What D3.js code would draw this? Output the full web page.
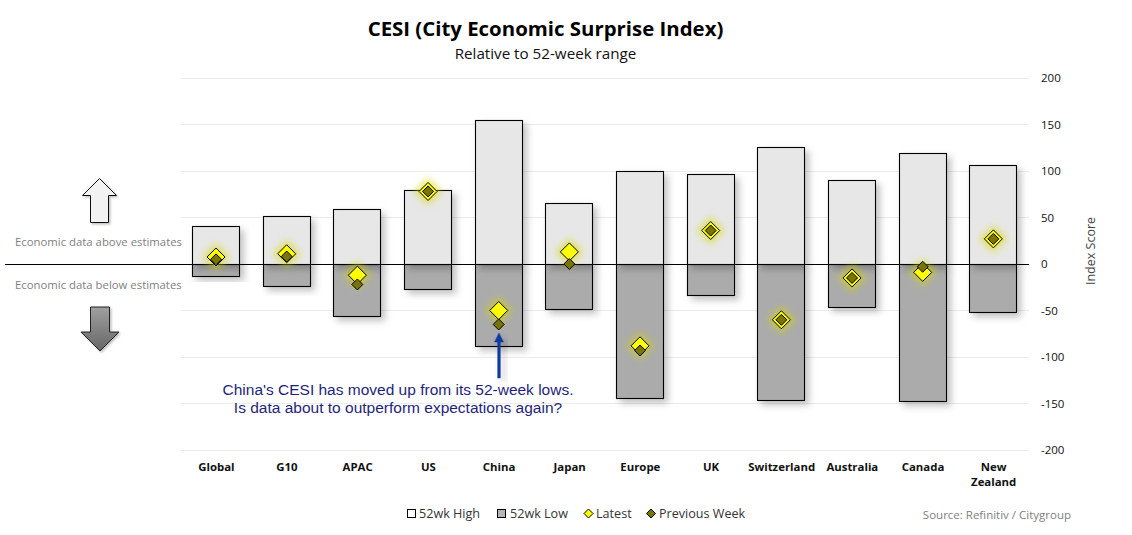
<!DOCTYPE html>
<html><head><meta charset="utf-8">
<script src="https://cdn.jsdelivr.net/npm/d3@7"></script>
<style>html,body{margin:0;padding:0;background:#fff;overflow:hidden}svg{display:block}text{font-family:"Open Sans","Noto Sans",sans-serif}</style>
</head><body><div id="c"></div>
<script>
const categories=["Global","G10","APAC","US","China","Japan","Europe","UK","Switzerland","Australia","Canada","New Zealand"];
const high52=[41,51.5,59,79.5,155,66,100,97,126,90,119,106];
const low52=[-13,-23.5,-56,-27,-88,-48,-144,-33,-146,-46,-147,-52];
const latest=[7.5,11,-12,78,-50,13,-88,36,-60,-15,-9,27];
const previous=[5,8,-22,78,-65,0,-93,36,-60,-15,-3,27];
const yTicks=[200,150,100,50,0,-50,-100,-150,-200];
const W=1132,H=535;
const svg=d3.select("#c").append("svg").attr("width",W).attr("height",H);
const defs=svg.append("defs");
const sh=defs.append("filter").attr("id","shadow").attr("x","-30%").attr("y","-30%").attr("width","170%").attr("height","170%");
sh.append("feDropShadow").attr("dx",4).attr("dy",4).attr("stdDeviation",3.5).attr("flood-color","#000").attr("flood-opacity",.24);
const sh2=defs.append("filter").attr("id","shadow2").attr("x","-30%").attr("y","-30%").attr("width","170%").attr("height","170%");
sh2.append("feDropShadow").attr("dx",1.5).attr("dy",1.5).attr("stdDeviation",1).attr("flood-color","#000").attr("flood-opacity",.25);
const gl=defs.append("filter").attr("id","glow").attr("x","-100%").attr("y","-100%").attr("width","300%").attr("height","300%");
gl.append("feGaussianBlur").attr("stdDeviation",3.6);
const gradDown=defs.append("linearGradient").attr("id","gd").attr("x1",0).attr("x2",0).attr("y1",0).attr("y2",1);
gradDown.append("stop").attr("offset",0).attr("stop-color","#a0a0a0");
gradDown.append("stop").attr("offset",1).attr("stop-color","#666");
const x=d3.scaleBand().domain(categories).range([181,1029]);
const y=d3.scaleLinear().domain([-200,200]).range([450,78]);
const cx=c=>x(c)+x.bandwidth()/2;
const barW=47;
// gridlines
svg.append("g").selectAll("line").data(yTicks.filter(d=>d!==0)).join("line")
 .attr("x1",181).attr("x2",1029).attr("y1",d=>Math.floor(y(d))+.5).attr("y2",d=>Math.floor(y(d))+.5)
 .attr("stroke","#ebebeb");
// bars: lows first so that the high bar's shadow falls on them
const bars=svg.append("g");
const barX=c=>Math.round(cx(c)-barW/2)-.5;
categories.forEach((c,i)=>{
 bars.append("rect").attr("x",barX(c)).attr("width",barW).attr("y",Math.round(y(0))+.5).attr("height",Math.round(y(low52[i]))-Math.round(y(0))).attr("fill","#ababab").attr("stroke","#000").attr("stroke-width",1.1).attr("filter","url(#shadow)");
});
categories.forEach((c,i)=>{
 bars.append("rect").attr("x",barX(c)).attr("width",barW).attr("y",Math.round(y(high52[i]))+.5).attr("height",Math.round(y(0))-Math.round(y(high52[i]))).attr("fill","#e7e7e7").attr("stroke","#000").attr("stroke-width",1.1).attr("filter","url(#shadow)");
});
// zero line
svg.append("line").attr("x1",5).attr("x2",1029).attr("y1",264.5).attr("y2",264.5).attr("stroke","#000").attr("stroke-width",1);
// markers
const diamond=r=>`M0,${-r}L${r},0L0,${r}L${-r},0Z`;
const mx=c=>cx(c)-.3;
const glowG=svg.append("g"),latG=svg.append("g"),prevG=svg.append("g");
glowG.selectAll("path").data(categories).join("path").attr("d",diamond(14))
 .attr("transform",(c,i)=>`translate(${mx(c)},${y(latest[i])})`).attr("fill","#d8d800").attr("opacity",.55).attr("filter","url(#glow)");
latG.selectAll("path").data(categories).join("path").attr("d",diamond(9))
 .attr("transform",(c,i)=>`translate(${mx(c)},${y(latest[i])})`).attr("fill","#ffff00").attr("stroke","#000").attr("stroke-width",1);
prevG.selectAll("path").data(categories).join("path").attr("d",diamond(5.5))
 .attr("transform",(c,i)=>`translate(${mx(c)},${y(previous[i])})`).attr("fill","#7a7400").attr("stroke","#000").attr("stroke-width",1);
// title
svg.append("text").attr("x",545.5).attr("y",36).attr("text-anchor","middle").attr("font-size",20.4).attr("font-weight",700).attr("fill","#000").text("CESI (City Economic Surprise Index)");
svg.append("text").attr("x",545.5).attr("y",59).attr("text-anchor","middle").attr("font-size",15.2).attr("fill","#111").text("Relative to 52-week range");
// y axis
svg.append("g").selectAll("text").data(yTicks).join("text").attr("x",1041).attr("y",d=>y(d)+4).attr("font-size",11.5).attr("fill","#111").text(d=>d);
svg.append("text").attr("transform","translate(1095,251) rotate(-90)").attr("text-anchor","middle").attr("font-size",12.5).attr("fill","#444").text("Index Score");
// x axis
const lab=svg.append("g");
categories.forEach(c=>{
 const t=lab.append("text").attr("text-anchor","middle").attr("font-size",11.4).attr("font-weight",700).attr("fill","#111");
 (c==="New Zealand"?["New","Zealand"]:[c]).forEach((s,j)=>t.append("tspan").attr("x",cx(c)).attr("y",471+j*15).text(s));
});
// side notes
svg.append("text").attr("x",15).attr("y",246).attr("font-size",11.35).attr("fill","#7f7f7f").text("Economic data above estimates");
svg.append("text").attr("x",15).attr("y",289).attr("font-size",11.35).attr("fill","#7f7f7f").text("Economic data below estimates");
const arrow=(tipX,tipY,dir,hw,sw,headH,len)=>{const s=dir;return d3.line()([[tipX,tipY],[tipX+hw,tipY+s*headH],[tipX+sw,tipY+s*headH],[tipX+sw,tipY+s*len],[tipX-sw,tipY+s*len],[tipX-sw,tipY+s*headH],[tipX-hw,tipY+s*headH]])+"Z";};
svg.append("path").attr("d",arrow(99.5,178.5,1,17,9,17,44)).attr("fill","#f2f2f2").attr("stroke","#111").attr("stroke-width",1).attr("filter","url(#shadow2)");
svg.append("path").attr("d",arrow(100,351,-1,19,9.5,19,44)).attr("fill","url(#gd)").attr("stroke","#222").attr("stroke-width",1).attr("filter","url(#shadow2)");
// annotation
const chinaX=cx("China");
svg.append("path").attr("d",arrow(chinaX,333,1,4.5,1.3,9,45)).attr("fill","#0f3aa0").attr("stroke","#0f3aa0").attr("stroke-width",.5).attr("filter","url(#shadow)");
const ann=svg.append("text").attr("text-anchor","middle").attr("fill","#1f1f7a").style("font-family","'Liberation Sans',Arial,sans-serif").attr("font-size",15.5);
ann.append("tspan").attr("x",398).attr("y",395).text("China's CESI has moved up from its 52-week lows.");
ann.append("tspan").attr("x",398).attr("y",413).text("Is data about to outperform expectations again?");
// legend
const leg=svg.append("g");
leg.append("rect").attr("x",407.5).attr("y",509.5).attr("width",8).attr("height",8).attr("fill","#fff").attr("stroke","#000");
leg.append("text").attr("x",419).attr("y",518).text("52wk High");
leg.append("rect").attr("x",497.5).attr("y",509.5).attr("width",8).attr("height",8).attr("fill","#b5b5b5").attr("stroke","#000");
leg.append("text").attr("x",510).attr("y",518).text("52wk Low");
leg.append("path").attr("d",diamond(4.5)).attr("transform","translate(588.5,513.5)").attr("fill","#ffff00").attr("stroke","#000");
leg.append("text").attr("x",596).attr("y",518).text("Latest");
leg.append("path").attr("d",diamond(4.5)).attr("transform","translate(651,513.5)").attr("fill","#7a7400").attr("stroke","#000");
leg.append("text").attr("x",659).attr("y",518).text("Previous Week");
leg.selectAll("text").attr("font-size",12.6).attr("fill","#333");
svg.append("text").attr("x",1071).attr("y",519).attr("text-anchor","end").attr("font-size",11.5).attr("fill","#808080").text("Source: Refinitiv / Citygroup");
</script></body></html>
